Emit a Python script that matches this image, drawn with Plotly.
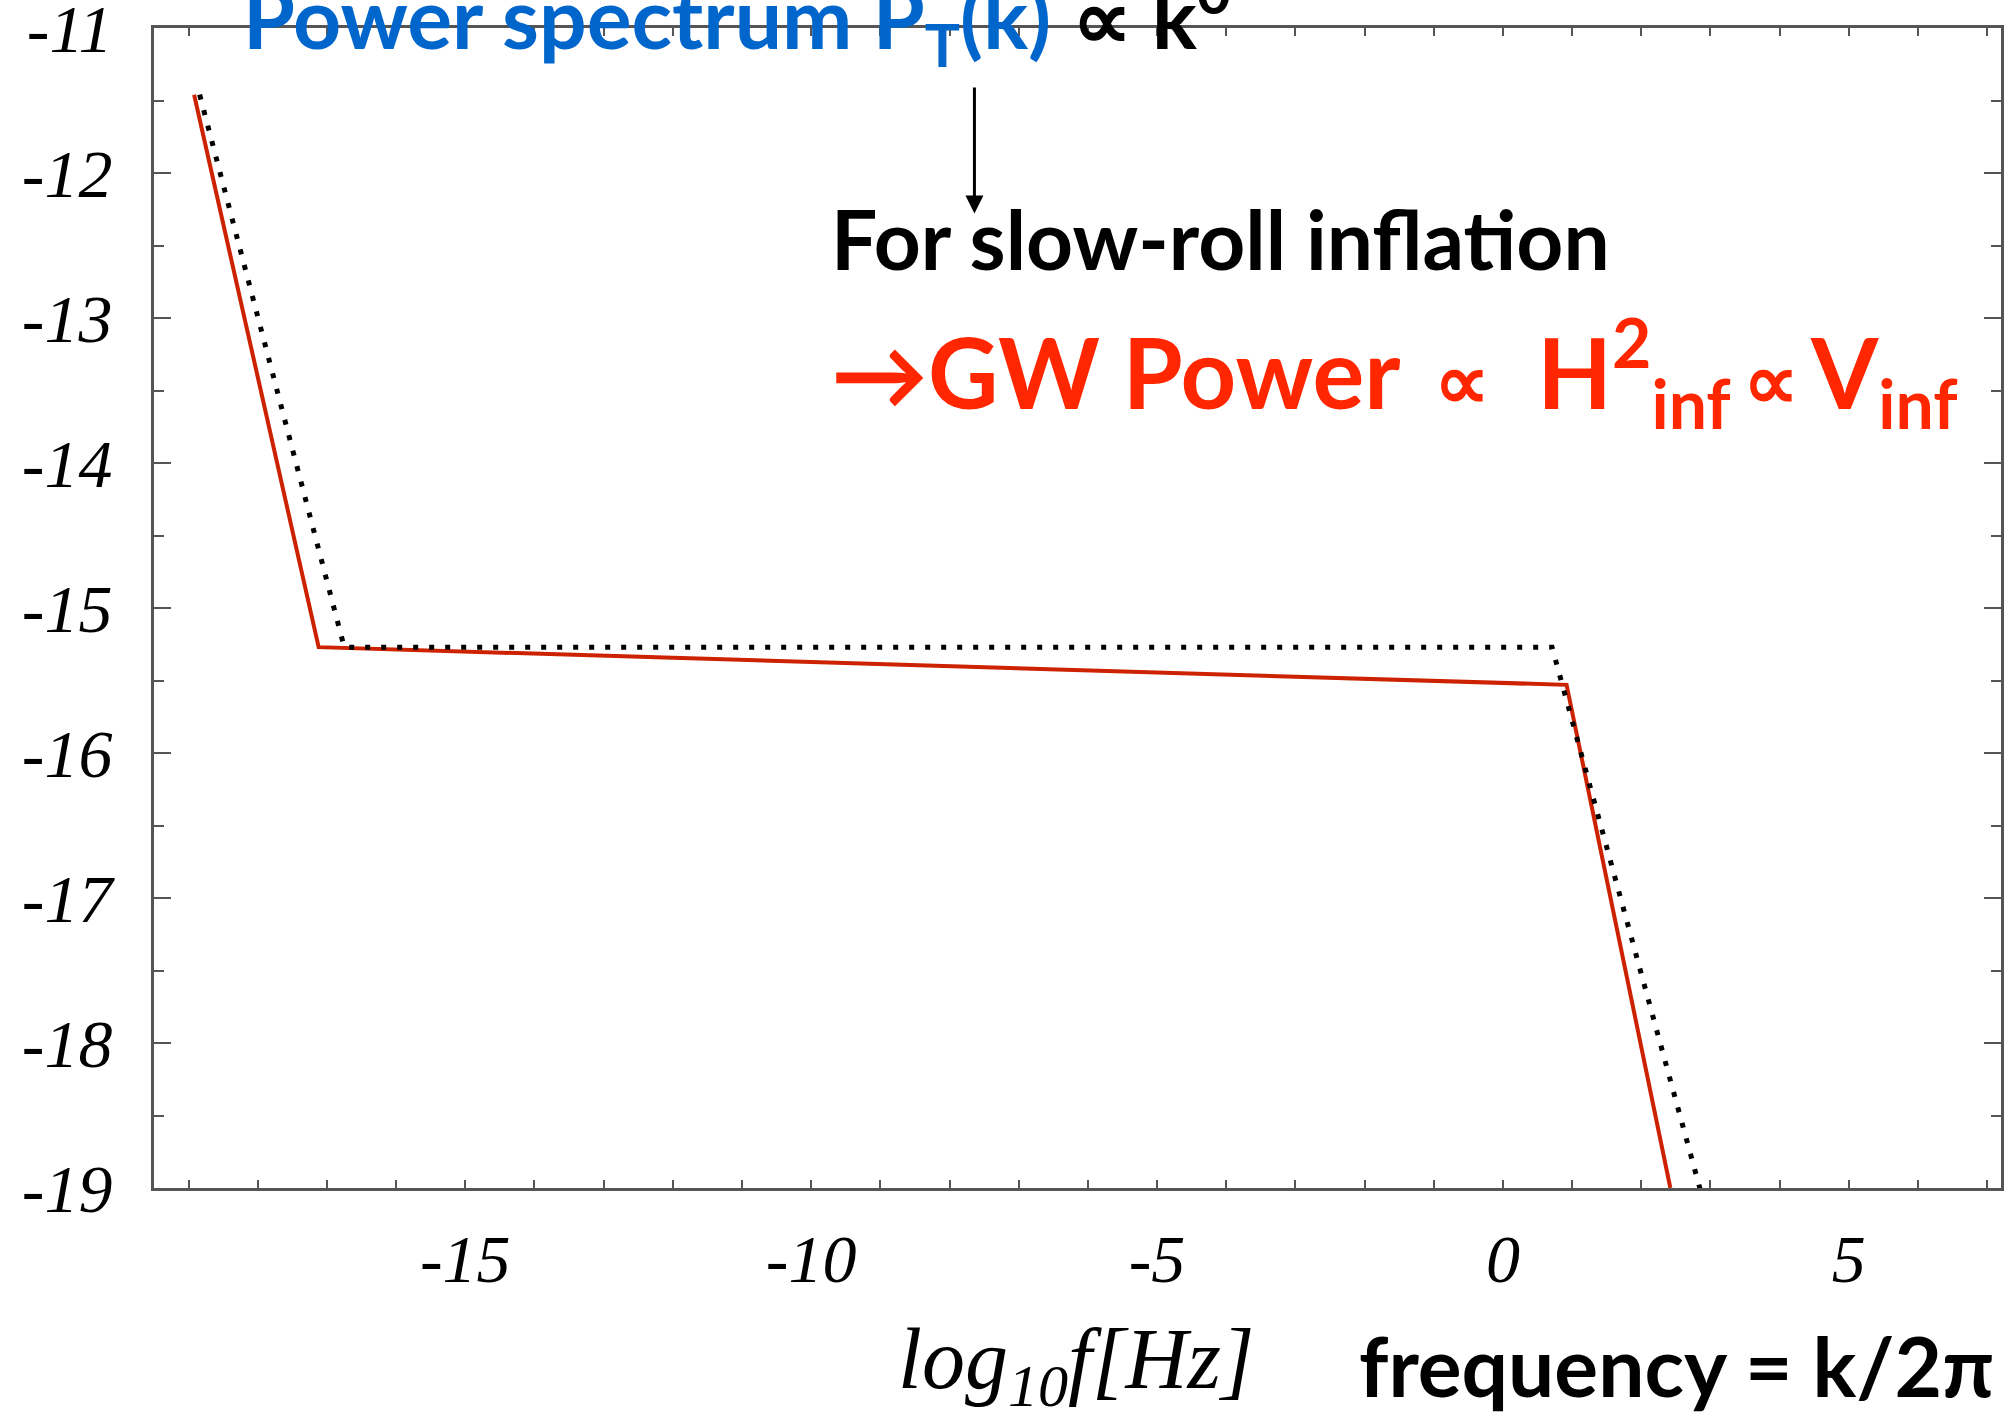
import plotly.graph_objects as go

# ---- data ----
red_x = [-18.92, -17.12, 0.92, 2.42]
red_y = [-11.46, -15.27, -15.53, -19.0]
dot_x = [-18.84, -16.75, 0.71, 2.88]
dot_y = [-11.46, -15.27, -15.27, -19.06]

x_tickvals = [-15, -10, -5, 0, 5]
x_ticktext = ["-15", "-10", "-5", "0", "5"]
y_tickvals = [-11, -12, -13, -14, -15, -16, -17, -18, -19]
y_ticktext = ["-11", "-12", "-13", "-14", "-15", "-16", "-17", "-18", "-19"]

W, H = 2007, 1414
L, R, T, B = 154, 6, 28, 226
PW, PH = W - L - R, H - T - B


def px(xp):
    return (xp - L) / PW


def py(yp):
    return (H - B - yp) / PH


fig = go.Figure()
fig.add_trace(go.Scatter(x=red_x, y=red_y, mode="lines",
                         line=dict(color="#CC2200", width=4), showlegend=False))
fig.add_trace(go.Scatter(x=dot_x, y=dot_y, mode="lines",
                         line=dict(color="black", width=5, dash="5px,11px"), showlegend=False))

tickfont = dict(family="Liberation Serif", size=68, color="black", style="italic")
axis_common = dict(showline=True, linecolor="#555555", linewidth=3, mirror="ticks",
                   showgrid=False, zeroline=False, ticks="inside", tickcolor="#555555",
                   tickwidth=2, tickfont=tickfont, ticklabeloverflow="allow", automargin=False)

fig.update_xaxes(range=[-19.5, 7.2], tickmode="array", tickvals=x_tickvals, ticktext=x_ticktext,
                 ticklen=8, ticklabelstandoff=9,
                 minor=dict(dtick=1, tick0=0, ticks="inside", ticklen=8, tickcolor="#555555", tickwidth=2),
                 **axis_common)
fig.update_yaxes(range=[-19, -11], tickmode="array", tickvals=y_tickvals, ticktext=y_ticktext,
                 ticklen=17, ticklabelstandoff=25,
                 minor=dict(dtick=0.5, tick0=0, ticks="inside", ticklen=10, tickcolor="#555555", tickwidth=2),
                 **axis_common)

sans = "Lato"
prop = "<span style='font-size:78px'>∝</span>"
annotations = [
    dict(x=px(241), y=py(82), xanchor="left", yanchor="bottom",
         text="<span style='color:#0066CC'>Power spectrum P<sub>T</sub>(k)</span> ∝ k<sup>0</sup>",
         font=dict(family=sans, size=84, color="black", weight="bold")),
    dict(x=px(829), y=py(238), xanchor="left", yanchor="middle",
         text="For slow-roll inflation",
         font=dict(family=sans, size=82, color="black", weight="bold")),
    dict(x=px(829), y=py(372), xanchor="left", yanchor="middle",
         text="→GW Power \u2009" + prop + "&nbsp; H<sup>2</sup><sub>inf</sub>\u2009" + prop + "\u2009V<sub>inf</sub>",
         font=dict(family=sans, size=97, color="#FF2600", weight="bold")),
    dict(x=px(896), y=py(1365), xanchor="left", yanchor="middle",
         text="log<sub>10</sub>f[Hz]",
         font=dict(family="Liberation Serif", size=86, color="black", style="italic")),
    dict(x=px(1357), y=py(1365), xanchor="left", yanchor="middle",
         text="frequency = k/2π",
         font=dict(family=sans, size=82, color="black", weight="bold")),
]
for a in annotations:
    a.update(xref="paper", yref="paper", showarrow=False)

# downward arrow
annotations.append(dict(x=-7.64, y=-12.28, ax=-7.64, ay=-11.4, xref="x", yref="y",
                        axref="x", ayref="y", text="", showarrow=True,
                        arrowhead=2, arrowsize=1.2, arrowwidth=3, arrowcolor="black"))

fig.update_layout(width=W, height=H, autosize=False,
                  margin=dict(l=L, r=R, t=T, b=B, pad=0, autoexpand=False),
                  paper_bgcolor="white", plot_bgcolor="white",
                  annotations=annotations)

fig.write_html("out.html")
